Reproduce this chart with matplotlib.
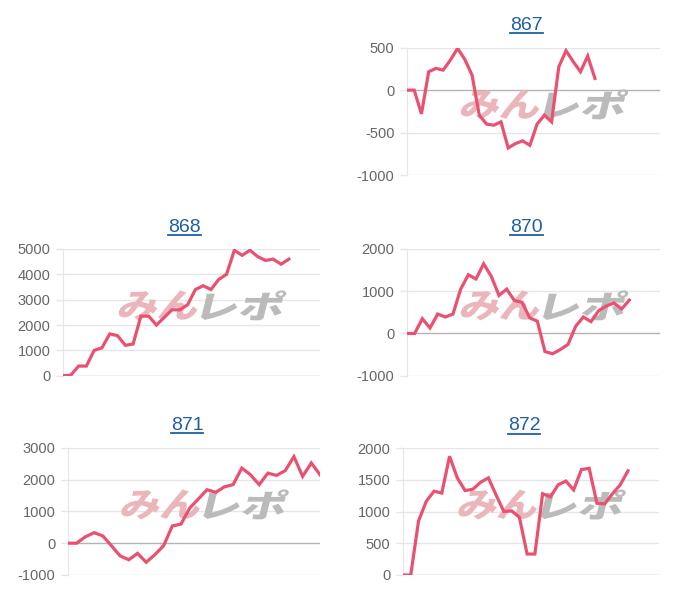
import matplotlib.pyplot as plt
import matplotlib.transforms as mtransforms
from matplotlib.lines import Line2D
from matplotlib.textpath import TextPath
from matplotlib.patches import PathPatch
from matplotlib.font_manager import FontProperties

plt.rcParams['font.family'] = ['Liberation Sans', 'DejaVu Sans']
plt.rcParams['axes.unicode_minus'] = False

titles = ['867', '868', '870', '871', '872']

s867 = [0, 0, -280, 217, 256, 236, 354, 492, 362, 177, -295, -400, -413, -374,
        -681, -630, -598, -650, -400, -295, -374, 275, 465, 335, 217, 402, 138]
s868 = [0, 20, 380, 380, 1000, 1100, 1650, 1580, 1200, 1250, 2350, 2350, 2000,
        2300, 2600, 2600, 2800, 3400, 3550, 3400, 3800, 4000, 4950, 4750, 4950,
        4700, 4550, 4600, 4400, 4600]
s870 = [0, 0, 350, 130, 460, 390, 460, 1050, 1390, 1290, 1650, 1350, 900, 1050,
        780, 740, 370, 290, -430, -480, -380, -260, 170, 390, 280, 540, 650, 720,
        580, 790]
s871 = [0, 0, 200, 330, 230, -80, -400, -520, -320, -600, -360, -80, 540, 600,
        1100, 1390, 1680, 1600, 1770, 1840, 2360, 2150, 1840, 2200, 2130, 2280,
        2720, 2100, 2520, 2150]
s872 = [0, 0, 850, 1160, 1320, 1290, 1870, 1530, 1330, 1350, 1460, 1530, 1260,
        1000, 1010, 910, 330, 330, 1280, 1230, 1420, 1480, 1340, 1660, 1680, 1130,
        1120, 1280, 1420, 1640]
series = [s867, s868, s870, s871, s872]

# number of x slots on each chart's category axis
slots = [36, 34, 34, 30, 34]
yticks = [
    [-1000, -500, 0, 500],
    [0, 1000, 2000, 3000, 4000, 5000],
    [-1000, 0, 1000, 2000],
    [-1000, 0, 1000, 2000, 3000],
    [0, 500, 1000, 1500, 2000],
]

W, H = 700, 600
# axes boxes in pixels: left, right, top, bottom
boxes = [
    (407, 660, 47.7, 175),
    (63, 320, 249, 375.7),
    (407, 660, 249, 375.7),
    (68, 320, 447.7, 575),
    (403, 659, 448, 575),
]

fig = plt.figure(figsize=(7, 6), dpi=100)
line_color = '#ea5170'
grid_color = '#e6e6e6'
logo_font = FontProperties(family='Noto Sans CJK JP', weight='heavy')


def logo(ax, s, color, cx, cy, w, h):
    # stretched, slanted watermark text placed in pixel coords (y from top)
    tp = TextPath((0, 0), s, size=100, prop=logo_font)
    ext = tp.get_extents()
    tr = (mtransforms.Affine2D()
          .translate(-(ext.x0 + ext.x1) / 2, -(ext.y0 + ext.y1) / 2)
          .scale(w / ext.width, h / ext.height)
          .skew_deg(14, 0)
          .translate(cx, H - cy))
    ax.add_patch(PathPatch(tp, transform=tr, facecolor=color,
                           edgecolor='none', zorder=2))


title_texts = []
for name, data, n, ticks, (l, r, t, b) in zip(titles, series, slots, yticks, boxes):
    ax = fig.add_axes([l / W, 1 - b / H, (r - l) / W, (b - t) / H])

    # watermark
    mx = (l + r) / 2
    my = (t + b) / 2 - 7
    logo(ax, 'みん', '#ebb6bb', mx - 32, my, 78, 30)
    logo(ax, 'レポ', '#bbbbbb', mx + 52, my, 80, 30)

    ax.plot(range(len(data)), data, color=line_color, lw=2.3, zorder=3,
            solid_joinstyle='miter')
    ax.set_xlim(0, n - 1)
    ax.set_ylim(ticks[0], ticks[-1])
    ax.set_yticks(ticks)
    ax.set_xticks([])
    for tk in ticks:
        c = '#b3b3b3' if tk == 0 else grid_color
        ax.axhline(tk, color=c, lw=1, zorder=1)
    for sp in ['top', 'right', 'bottom']:
        ax.spines[sp].set_visible(False)
    ax.spines['left'].set_color(grid_color)
    ax.tick_params(axis='y', length=5, width=1, color=grid_color, pad=4,
                   labelsize=10.5, labelcolor='#666666')

    tx = (l + r) / 2 - 7
    ty = t - 22
    txt = fig.text(tx / W, 1 - ty / H, name, ha='center', va='center',
                   fontsize=14, color='#1f5fa5')
    title_texts.append(txt)

# underline the titles (they are links)
fig.canvas.draw()
renderer = fig.canvas.get_renderer()
for txt in title_texts:
    bb = txt.get_window_extent(renderer)
    y = bb.y0 + 1
    fig.add_artist(Line2D([bb.x0 / W, bb.x1 / W], [y / H, y / H],
                          color='#1f5fa5', lw=1.3))

fig.savefig('out.png', dpi=100)
